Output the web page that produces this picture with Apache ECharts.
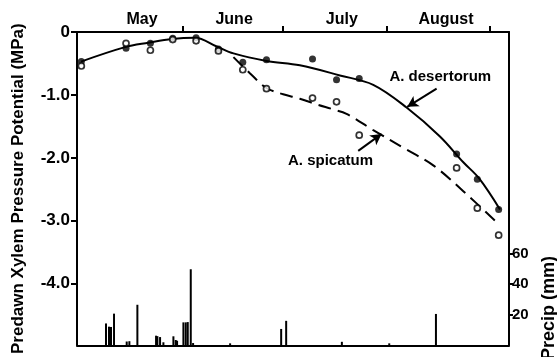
<!DOCTYPE html>
<html>
<head>
<meta charset="utf-8">
<script src="https://cdn.jsdelivr.net/npm/echarts@6/dist/echarts.min.js"></script>
<style>
  html, body { margin: 0; padding: 0; background: #fff; }
  #chart { width: 557px; height: 357px; }
</style>
</head>
<body>
<div id="chart"></div>
<script>
// Days counted from 1 May.
const monthNames = ['May', 'June', 'July', 'August'];
const monthLabelDays = [18.7, 46.3, 78.6, 109.8];
const monthStartDays = [31, 61, 92, 123];
const pressureTicks = [0, -1, -2, -3, -4];
const precipTicks = [20, 40, 60];

// Predawn xylem pressure potential (MPa) on each sampling date
const sampleDays = [0.5, 13.9, 21.2, 27.9, 34.9, 41.6, 48.9, 56, 69.8, 77, 83.8, 113, 119.2, 125.6];
const desertorumObs = [-0.47, -0.26, -0.18, -0.10, -0.09, -0.27, -0.48, -0.44, -0.43, -0.76, -0.74, -1.94, -2.34, -2.82];
const spicatumObs = [-0.54, -0.18, -0.29, -0.12, -0.14, -0.30, -0.60, -0.90, -1.05, -1.11, -1.64, -2.16, -2.80, -3.23];

// Fitted seasonal trends
const desertorumFitDays = [0.4, 13.6, 20.6, 27.6, 34.6, 41.1, 46.1, 56, 66, 78, 88, 98, 108, 115, 119.8, 126];
const desertorumFit = [-0.47, -0.24, -0.17, -0.11, -0.09, -0.23, -0.34, -0.46, -0.53, -0.69, -0.84, -1.20, -1.66, -2.07, -2.33, -2.82];
const spicatumFitDays = [46.1, 51.1, 56, 61, 66, 71, 76, 80, 88, 98, 106, 115, 125.5];
const spicatumFit = [-0.40, -0.66, -0.89, -0.99, -1.06, -1.15, -1.23, -1.30, -1.56, -1.87, -2.12, -2.53, -3.05];

// Daily precipitation (mm)
const precipDays = [7.9, 8.8, 9.4, 10.3, 14.1, 14.9, 17.3, 22.9, 23.3, 24.1, 25.1, 28.1, 28.8, 29.2, 31.1, 31.8, 32.4, 33.3, 34.0, 45.1, 60.4, 61.9, 78.6, 92.8, 106.8];
const precipMm = [14.3, 12.2, 12, 20.7, 2.5, 2.7, 26.5, 6.3, 6, 5.4, 2, 5.9, 3.5, 3, 15, 15, 15.2, 49.7, 1.5, 1.3, 10.7, 16, 2.3, 1.3, 20.5];

// Species labels and their pointer arrows
const noteNames = ['A. desertorum', 'A. spicatum'];
const notePos = [[108.1, -0.72], [75.2, -2.05]];
const arrowFrom = [[107.0, -0.90], [83.5, -1.89]];
const arrowTo = [[98.2, -1.19], [90.5, -1.62]];

const pairs = (xs, ys) => xs.map((x, i) => [x, ys[i]]);
const FONT = 'Liberation Sans';
const INK = '#000';

const chart = echarts.init(document.getElementById('chart'), null, { renderer: 'canvas' });

chart.setOption({
  animation: false,
  backgroundColor: '#fff',
  grid: { left: 77, right: 48, top: 32, bottom: 1, containLabel: false },
  xAxis: [
    {
      type: 'value', position: 'top', min: -0.8, max: 128.7,
      axisLine: { show: true, lineStyle: { color: INK, width: 2 } },
      axisTick: { show: true, inside: false, length: 6, customValues: monthStartDays, lineStyle: { color: INK, width: 2 } },
      axisLabel: {
        show: true, customValues: monthLabelDays, margin: 4,
        color: INK, fontFamily: FONT, fontSize: 16, fontWeight: 'bold',
        formatter: (v) => monthNames[monthLabelDays.indexOf(v)] || ''
      },
      splitLine: { show: false }
    },
    {
      type: 'value', position: 'bottom', min: -0.8, max: 128.7,
      axisLine: { show: true, onZero: false, lineStyle: { color: INK, width: 2 } },
      axisTick: { show: false }, axisLabel: { show: false }, splitLine: { show: false }
    }
  ],
  yAxis: [
    {
      type: 'value', position: 'left', min: -4.98, max: 0,
      name: 'Predawn Xylem Pressure Potential (MPa)',
      nameLocation: 'middle', nameRotate: 90, nameGap: 50,
      nameTextStyle: { color: INK, fontFamily: FONT, fontSize: 17, fontWeight: 'bold' },
      axisLine: { show: true, onZero: false, lineStyle: { color: INK, width: 2 } },
      axisTick: { show: true, length: 6, customValues: pressureTicks, lineStyle: { color: INK, width: 2 } },
      axisLabel: {
        customValues: pressureTicks, margin: 7,
        color: INK, fontFamily: FONT, fontSize: 17, fontWeight: 'bold',
        formatter: (v) => (v === 0 ? '0' : v.toFixed(1))
      },
      splitLine: { show: false }
    },
    {
      type: 'value', position: 'right', min: 0, max: 204.7,
      axisLine: { show: true, onZero: false, lineStyle: { color: INK, width: 2 } },
      axisTick: { show: true, length: 4, customValues: precipTicks, lineStyle: { color: INK, width: 2 } },
      axisLabel: {
        customValues: precipTicks, margin: 3,
        color: INK, fontFamily: FONT, fontSize: 15, fontWeight: 'bold'
      },
      splitLine: { show: false }
    }
  ],
  series: [
    {
      name: 'Precipitation', type: 'bar', xAxisIndex: 0, yAxisIndex: 1,
      barWidth: 2, itemStyle: { color: INK }, silent: true,
      data: pairs(precipDays, precipMm)
    },
    {
      name: 'A. desertorum trend', type: 'line', xAxisIndex: 0, yAxisIndex: 0,
      smooth: 0.35, showSymbol: false, silent: true,
      lineStyle: { color: INK, width: 2 },
      data: pairs(desertorumFitDays, desertorumFit),
      markLine: {
        silent: true,
        symbol: ['none', 'arrow'],
        symbolSize: [9, 11],
        label: { show: false },
        lineStyle: { color: INK, width: 2, type: 'solid' },
        data: arrowFrom.map((p, i) => [{ coord: p }, { coord: arrowTo[i] }])
      }
    },
    {
      name: 'A. spicatum trend', type: 'line', xAxisIndex: 0, yAxisIndex: 0,
      smooth: 0.35, showSymbol: false, silent: true,
      lineStyle: { color: INK, width: 2, type: [13, 7] },
      data: pairs(spicatumFitDays, spicatumFit)
    },
    {
      name: 'A. desertorum', type: 'scatter', xAxisIndex: 0, yAxisIndex: 0,
      symbol: 'circle', symbolSize: 7, itemStyle: { color: INK }, z: 3,
      data: pairs(sampleDays, desertorumObs)
    },
    {
      name: 'A. spicatum', type: 'scatter', xAxisIndex: 0, yAxisIndex: 0,
      symbol: 'circle', symbolSize: 6, z: 4,
      itemStyle: { color: '#fff', borderColor: INK, borderWidth: 1.7 },
      data: pairs(sampleDays, spicatumObs)
    }
  ]
});

// Species names placed in data space, plus the precipitation axis title
const notes = noteNames.map((n, i) => {
  const [px, py] = chart.convertToPixel({ xAxisIndex: 0, yAxisIndex: 0 }, notePos[i]);
  return {
    type: 'text', x: px, y: py, z: 10,
    style: { text: n, align: 'center', verticalAlign: 'middle', fill: INK,
             font: 'bold 15px "Liberation Sans"' }
  };
});
chart.setOption({
  graphic: notes.concat([
    {
      type: 'text', x: 549, y: 308, rotation: Math.PI / 2,
      style: { text: 'Precip (mm)', align: 'center', verticalAlign: 'middle', fill: INK,
               font: 'bold 18px "Liberation Sans"' }
    }
  ])
});
</script>
</body>
</html>
